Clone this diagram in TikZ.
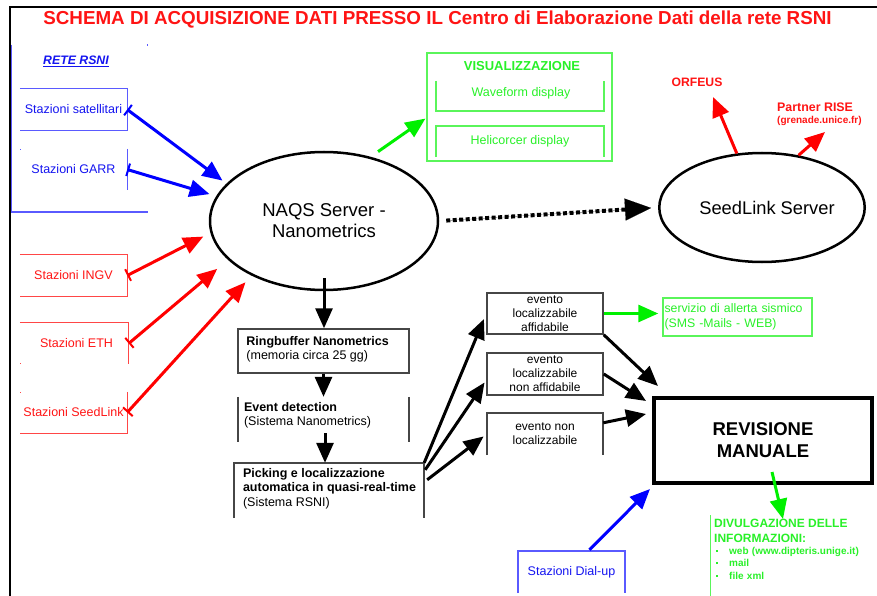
\documentclass[tikz,border=0pt]{standalone}
\usepackage{fontspec}
\setmainfont{Liberation Sans}
\usetikzlibrary{arrows.meta,calc,shapes.geometric}
\definecolor{bl}{RGB}{0,0,255}
\definecolor{bll}{RGB}{90,90,255}
\definecolor{blt}{RGB}{20,20,240}
\definecolor{rd}{RGB}{255,0,0}
\definecolor{rdl}{RGB}{255,70,70}
\definecolor{rdt}{RGB}{255,20,20}
\definecolor{gr}{RGB}{0,240,0}
\definecolor{grl}{RGB}{90,245,90}
\definecolor{grt}{RGB}{40,240,40}
\definecolor{gry}{RGB}{70,70,70}
\tikzset{
  fs/.style={font=\fontsize{12.5}{14}\selectfont},
  fsb/.style={font=\fontsize{12.5}{14}\selectfont\bfseries},
  stn/.style={minimum width=107pt, minimum height=41pt, inner sep=0pt, fs},
  arr/.style={line width=3pt, -{Triangle[length=20pt,width=17pt]}},
  teearr/.style={line width=3pt, {Bar[width=13pt,line width=2pt]}-{Triangle[length=20pt,width=17pt]}},
  gbox/.style={draw=gry, line width=1.5pt, inner sep=0pt},
  evbox/.style={gbox, minimum width=116pt, minimum height=41pt, align=center, font=\fontsize{12}{14}\selectfont},
}
\begin{document}
\begin{tikzpicture}[x=1pt,y=-1pt]
\useasboundingbox (0,0) rectangle (877,596);
% frame
\draw[line width=2.5pt] (877,7) -- (10,7) -- (10,596);
% title
\node[text=rdt, font=\fontsize{18.8}{22}\selectfont\bfseries, inner sep=0pt] (title) at (437.5,20) {SCHEMA DI ACQUISIZIONE DATI PRESSO IL Centro di Elaborazione Dati della rete RSNI};
% RETE RSNI
\node[anchor=west, text=blt, font=\fontsize{12.3}{14}\selectfont\bfseries\itshape, inner sep=0pt] (rete) at (43,61) {\underline{RETE RSNI}};
\draw[bll, line width=1.5pt] (11.5,45) -- (11.5,212) -- (148,212);
\fill[bll] (146.5,44.5) rectangle (148,46);
% stations
\node[stn, text=blt] (sat) at (73.5,109.5) {Stazioni satellitari};
\node[stn, text=blt] (garr) at (73.5,169.5) {Stazioni GARR};
\node[stn, text=rdt] (ingv) at (73.5,275.5) {Stazioni INGV};
\node[stn, text=rdt] (eth) at (75,343.5) {\hspace{3pt}Stazioni ETH};
\node[stn, text=rdt] (sl) at (73.5,412.5) {Stazioni SeedLink};
\draw[bll, line width=1.2pt] (sat.north west) -- (sat.north east) -- (sat.south east) -- (sat.south west);
\draw[bll, line width=1.2pt] (garr.north east) -- (garr.south east);
\fill[bll] ($(garr.north west)+(0,0)$) rectangle ++(1.5,1.5);
\draw[rdl, line width=1.2pt] (ingv.north west) -- (ingv.north east) -- (ingv.south east) -- (ingv.south west);
\draw[rdl, line width=1.2pt] ([xshift=-1.5pt]eth.north west) -- (eth.north east) -- (eth.south east);
\fill[rdl] ($(eth.south west)+(-1.5,-1.5)$) rectangle ++(1.5,1.5);
\draw[rdl, line width=1.2pt] (sl.north east) -- (sl.south east) -- (sl.south west);
\fill[rdl] (sl.north west) rectangle ++(1.5,1.5);
% NAQS
\node[draw, ellipse, line width=2.5pt, minimum width=228pt, minimum height=138pt, inner sep=0pt, align=center, font=\fontsize{18.5}{21}\selectfont] (naqs) at (324,221) {NAQS Server -\\Nanometrics};
% SeedLink
\node[draw, ellipse, line width=2.5pt, minimum width=190pt, minimum height=109pt, inner sep=0pt, font=\fontsize{18.3}{21}\selectfont] (seed) at (762,207.5) {\hspace{10pt}SeedLink Server};
% station arrows
\draw[teearr, bl, shorten >=5pt] (sat.east) -- (naqs.159);
\draw[teearr, bl, shorten >=7pt] (garr.east) -- (naqs.167);
\draw[teearr, rd, shorten >=8pt] (ingv.east) -- (naqs.186);
\draw[teearr, rd, shorten >=14pt] (eth.east) -- (naqs.202);
\draw[teearr, rd, shorten >=9pt] (sl.east) -- (naqs.217);
% visualizzazione
\node[draw=grl, line width=1.5pt, minimum width=185pt, minimum height=108pt, inner sep=0pt] (vis) at (519.5,107) {};
\node[text=grt, font=\fontsize{13}{15}\selectfont\bfseries, inner sep=0pt] (visT) at (522,66) {VISUALIZZAZIONE};
\node[minimum width=168pt, minimum height=30pt, inner sep=0pt] (wave) at (520,96) {};
\draw[grl, line width=1.5pt] (wave.north west) -- (wave.south west) -- (wave.south east) -- (wave.north east);
\node[text=grt, fs, inner sep=0pt] (waveT) at (521,93) {Waveform display};
\node[minimum width=168pt, minimum height=31pt, inner sep=0pt, text=grt, fs] (heli) at (520,141.5) {Helicorcer display};
\draw[grl, line width=1.5pt] (heli.south west) -- (heli.north west) -- (heli.north east) -- (heli.south east);
\draw[arr, gr, shorten <=9pt, shorten >=1pt] (naqs.54) -- ($(vis.west)+(0,11)$);
% dotted link
\draw[line width=4pt, dash pattern=on 4pt off 2.5pt, shorten <=7pt, shorten >=26pt] (naqs.east) -- (seed.west);
\draw[line width=0.1pt, -{Triangle[length=26pt,width=22pt]}, shorten <=7pt, shorten >=7pt] (naqs.east) -- (seed.west);
% ORFEUS / RISE
\node[text=rdt, font=\fontsize{12.2}{14}\selectfont\bfseries, inner sep=0pt] (orf) at (697,82) {ORFEUS};
\node[anchor=west, text=rdt, font=\fontsize{12.4}{14}\selectfont\bfseries, inner sep=0pt] (rise) at (777,107) {Partner RISE};
\node[anchor=west, text=rdt, font=\fontsize{10}{12}\selectfont\bfseries, inner sep=0pt] (riseS) at (777,121) {(grenade.unice.fr)};
\coordinate (orfTip) at (713,97);
\coordinate (riseTip) at (825,132);
\draw[arr, rd] (seed.115) -- (orfTip);
\draw[arr, rd] (seed.55) -- (riseTip);
% chain
\node[gbox, minimum width=171pt, minimum height=44pt] (ring) at (323.5,351) {};
\node[anchor=north west, inner sep=0pt, align=left, fs] (ringT) at ($(ring.north west)+(9,8)$) {\textbf{Ringbuffer Nanometrics}\\(memoria circa 25 gg)};
\node[minimum width=171pt, minimum height=45pt, inner sep=0pt] (ed) at (323.5,419.5) {};
\draw[gry, line width=1.5pt] (ed.north west) -- (ed.south west) (ed.north east) -- (ed.south east);
\node[anchor=north west, inner sep=0pt, align=left, fs] (edT) at ($(ed.north west)+(6,5.5)$) {\textbf{Event detection}\\(Sistema Nanometrics)};
\node[minimum width=190pt, minimum height=55pt, inner sep=0pt] (pick) at (329,490.5) {};
\draw[gry, line width=1.5pt] (pick.south west) -- (pick.north west) -- (pick.north east) -- (pick.south east);
\node[anchor=north west, inner sep=0pt, align=left, font=\fontsize{12.5}{14.5}\selectfont] (pickT) at ($(pick.north west)+(9,5)$) {\textbf{Picking e localizzazione}\\\textbf{automatica in quasi-real-time}\\(Sistema RSNI)};
\draw[arr, shorten <=-13pt] (naqs.south) -- (naqs.south |- ring.north);
\draw[arr] (ring.south) -- (ed.north);
\draw[arr, shorten <=-9pt] ($(ed.south)+(1.5,0)$) -- ($(ed.south |- pick.north)+(1.5,0)$);
% events
\node[evbox] (ev1) at (545,313.5) {evento\\localizzabile\\affidabile};
\node[evbox, minimum height=42pt] (ev2) at (545,374) {evento\\localizzabile\\non affidabile};
\node[minimum width=116pt, minimum height=42pt, inner sep=0pt, align=center, font=\fontsize{12}{14}\selectfont] (ev3) at (545,434) {evento non\\localizzabile};
\draw[gry, line width=1.5pt] (ev3.south west) -- (ev3.north west) -- (ev3.north east) -- (ev3.south east);
\draw[arr, shorten >=6pt] (pick.north east) -- (ev1.west);
\draw[arr, shorten >=3pt] ($(pick.north east)+(1,7)$) -- ($(ev2.west)+(0,6)$);
\draw[arr, shorten >=4pt] ($(pick.north east)+(3,17)$) -- (ev3.west);
% alert
\node[draw=grl, line width=1.5pt, minimum width=149pt, minimum height=38pt, inner sep=1pt, text width=146pt, align=left, text=grt, font=\fontsize{12.3}{15}\selectfont] (alert) at (737.5,317) {servizio di allerta sismico\\(SMS -Mails - WEB)};
\draw[arr, gr, shorten >=4pt] (ev1.east) -- (ev1.east -| alert.west);
% revisione
\node[draw, line width=4pt, minimum width=218pt, minimum height=85pt, inner sep=0pt, align=center, font=\fontsize{18.5}{22}\selectfont\bfseries] (rev) at (763,440.5) {REVISIONE\\MANUALE};
\draw[arr] (ev1.south east) -- ($(rev.north west)+(6,-10)$);
\draw[arr] (ev2.east) -- ($(rev.north west)+(-6,5)$);
\draw[arr] ($(ev3.north east)+(0,10)$) -- ($(rev.north west)+(-6,18)$);
% dial-up
\node[minimum width=107pt, minimum height=42pt, inner sep=0pt, text=blt, fs] (dial) at (571.5,572) {Stazioni Dial-up};
\draw[bll, line width=1.5pt] (dial.south west) -- (dial.north west) -- (dial.north east) -- (dial.south east);
\draw[arr, bl] ($(dial.north)+(18,-1)$) -- ($(rev.south west)+(-2,4)$);
% divulgazione
\draw[grl, line width=1.5pt] (710.5,515) -- (710.5,596);
\node[anchor=north west, inner sep=0pt, text width=160pt, align=left, text=grt, font=\bfseries] (div) at (714,519) {{\fontsize{12}{15}\selectfont DIVULGAZIONE DELLE\\INFORMAZIONI:\par}\vspace{-1pt}{\fontsize{10}{12.5}\selectfont\hspace*{2pt}\rule[2.5pt]{2pt}{2pt}\hspace{11pt}web (www.dipteris.unige.it)\\\hspace*{2pt}\rule[2.5pt]{2pt}{2pt}\hspace{11pt}mail\\\hspace*{2pt}\rule[2.5pt]{2pt}{2pt}\hspace{11pt}file xml\par}};
\draw[arr, gr] ($(rev.south)+(9,-13)$) -- ($(div.north west)+(69,0)$);
\end{tikzpicture}
\end{document}
